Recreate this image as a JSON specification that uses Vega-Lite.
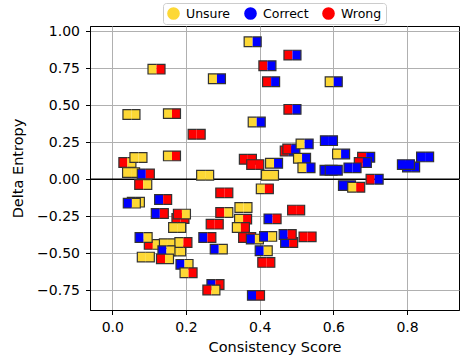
{
 "$schema": "https://vega.github.io/schema/vega-lite/v6.json",
 "width": 369,
 "height": 284,
 "autosize": "none",
 "padding": {"left": 90, "top": 26, "right": 1, "bottom": 52},
 "background": "white",
 "config": {
  "font": "DejaVu Sans",
  "view": {"stroke": "black", "strokeWidth": 1},
  "axis": {
   "grid": true,
   "gridColor": "#b0b0b0",
   "gridWidth": 1,
   "domainColor": "black",
   "domainWidth": 1,
   "tickColor": "black",
   "tickWidth": 1,
   "tickSize": 4.5,
   "labelFont": "DejaVu Sans",
   "labelFontSize": 14,
   "labelColor": "black",
   "labelPadding": 6,
   "labelOverlap": false,
   "labelFlush": false,
   "titleFont": "DejaVu Sans",
   "titleFontSize": 14.5,
   "titleFontWeight": "normal",
   "titleColor": "black"
  }
 },
 "data": {"values": [
  {"x":0.381,"y":0.930,"l":"Unsure","r":"Correct"},
  {"x":0.120,"y":0.745,"l":"Unsure","r":"Wrong"},
  {"x":0.421,"y":0.768,"l":"Wrong","r":"Correct"},
  {"x":0.431,"y":0.660,"l":"Wrong","r":"Correct"},
  {"x":0.284,"y":0.680,"l":"Unsure","r":"Correct"},
  {"x":0.489,"y":0.840,"l":"Wrong","r":"Correct"},
  {"x":0.601,"y":0.660,"l":"Unsure","r":"Correct"},
  {"x":0.489,"y":0.473,"l":"Wrong","r":"Correct"},
  {"x":0.052,"y":0.438,"l":"Unsure","r":"Unsure"},
  {"x":0.162,"y":0.444,"l":"Unsure","r":"Wrong"},
  {"x":0.392,"y":0.387,"l":"Unsure","r":"Correct"},
  {"x":0.229,"y":0.304,"l":"Wrong","r":"Wrong"},
  {"x":0.162,"y":0.158,"l":"Unsure","r":"Wrong"},
  {"x":0.041,"y":0.113,"l":"Wrong","r":"Unsure"},
  {"x":0.071,"y":0.147,"l":"Unsure","r":"Unsure"},
  {"x":0.051,"y":0.045,"l":"Unsure","r":"Unsure"},
  {"x":0.091,"y":0.036,"l":"Correct","r":"Wrong"},
  {"x":0.084,"y":-0.036,"l":"Wrong","r":"Unsure"},
  {"x":0.252,"y":0.027,"l":"Unsure","r":"Unsure"},
  {"x":0.064,"y":-0.155,"l":"Correct","r":"Unsure"},
  {"x":0.053,"y":-0.162,"l":"Correct","r":"Unsure"},
  {"x":0.138,"y":-0.137,"l":"Correct","r":"Wrong"},
  {"x":0.129,"y":-0.232,"l":"Correct","r":"Wrong"},
  {"x":0.185,"y":-0.266,"l":"Wrong","r":"Wrong"},
  {"x":0.189,"y":-0.236,"l":"Wrong","r":"Unsure"},
  {"x":0.304,"y":-0.092,"l":"Wrong","r":"Wrong"},
  {"x":0.304,"y":-0.225,"l":"Wrong","r":"Unsure"},
  {"x":0.176,"y":-0.327,"l":"Unsure","r":"Unsure"},
  {"x":0.278,"y":-0.304,"l":"Wrong","r":"Wrong"},
  {"x":0.110,"y":-0.441,"l":"Wrong","r":"Unsure"},
  {"x":0.151,"y":-0.436,"l":"Unsure","r":"Unsure"},
  {"x":0.176,"y":-0.486,"l":"Unsure","r":"Unsure"},
  {"x":0.085,"y":-0.394,"l":"Correct","r":"Unsure"},
  {"x":0.193,"y":-0.428,"l":"Unsure","r":"Wrong"},
  {"x":0.147,"y":-0.484,"l":"Correct","r":"Unsure"},
  {"x":0.091,"y":-0.527,"l":"Unsure","r":"Unsure"},
  {"x":0.143,"y":-0.539,"l":"Wrong","r":"Unsure"},
  {"x":0.196,"y":-0.576,"l":"Correct","r":"Unsure"},
  {"x":0.207,"y":-0.633,"l":"Unsure","r":"Wrong"},
  {"x":0.258,"y":-0.394,"l":"Correct","r":"Wrong"},
  {"x":0.289,"y":-0.473,"l":"Correct","r":"Unsure"},
  {"x":0.280,"y":-0.712,"l":"Correct","r":"Wrong"},
  {"x":0.269,"y":-0.750,"l":"Wrong","r":"Unsure"},
  {"x":0.368,"y":0.135,"l":"Wrong","r":"Wrong"},
  {"x":0.388,"y":0.099,"l":"Wrong","r":"Wrong"},
  {"x":0.439,"y":0.108,"l":"Unsure","r":"Correct"},
  {"x":0.428,"y":0.027,"l":"Unsure","r":"Unsure"},
  {"x":0.414,"y":-0.065,"l":"Unsure","r":"Wrong"},
  {"x":0.356,"y":-0.191,"l":"Unsure","r":"Unsure"},
  {"x":0.355,"y":-0.270,"l":"Unsure","r":"Wrong"},
  {"x":0.349,"y":-0.327,"l":"Unsure","r":"Wrong"},
  {"x":0.366,"y":-0.394,"l":"Wrong","r":"Wrong"},
  {"x":0.387,"y":-0.405,"l":"Correct","r":"Unsure"},
  {"x":0.423,"y":-0.387,"l":"Correct","r":"Unsure"},
  {"x":0.411,"y":-0.484,"l":"Correct","r":"Unsure"},
  {"x":0.418,"y":-0.563,"l":"Wrong","r":"Wrong"},
  {"x":0.390,"y":-0.786,"l":"Correct","r":"Wrong"},
  {"x":0.479,"y":0.191,"l":"Wrong","r":"Correct"},
  {"x":0.486,"y":0.205,"l":"Wrong","r":"Correct"},
  {"x":0.522,"y":0.239,"l":"Unsure","r":"Correct"},
  {"x":0.515,"y":0.142,"l":"Unsure","r":"Correct"},
  {"x":0.527,"y":0.077,"l":"Unsure","r":"Correct"},
  {"x":0.588,"y":0.261,"l":"Correct","r":"Correct"},
  {"x":0.587,"y":0.061,"l":"Correct","r":"Correct"},
  {"x":0.601,"y":0.061,"l":"Correct","r":"Correct"},
  {"x":0.621,"y":0.171,"l":"Unsure","r":"Correct"},
  {"x":0.689,"y":0.149,"l":"Wrong","r":"Correct"},
  {"x":0.680,"y":0.113,"l":"Wrong","r":"Correct"},
  {"x":0.652,"y":0.077,"l":"Correct","r":"Correct"},
  {"x":0.637,"y":-0.043,"l":"Correct","r":"Correct"},
  {"x":0.662,"y":-0.054,"l":"Unsure","r":"Wrong"},
  {"x":0.712,"y":0.0,"l":"Wrong","r":"Correct"},
  {"x":0.811,"y":0.083,"l":"Correct","r":"Correct"},
  {"x":0.797,"y":0.099,"l":"Correct","r":"Correct"},
  {"x":0.849,"y":0.151,"l":"Correct","r":"Correct"},
  {"x":0.499,"y":-0.209,"l":"Wrong","r":"Wrong"},
  {"x":0.435,"y":-0.268,"l":"Correct","r":"Wrong"},
  {"x":0.480,"y":-0.428,"l":"Correct","r":"Wrong"},
  {"x":0.476,"y":-0.374,"l":"Correct","r":"Wrong"},
  {"x":0.530,"y":-0.390,"l":"Wrong","r":"Wrong"}
 ]},
 "layer": [
  {
   "data": {"values": [{}]},
   "mark": {"type": "rule", "color": "black", "strokeWidth": 1.3},
   "encoding": {"y": {"datum": 0, "type": "quantitative"}}
  },
  {
   "transform": [{"fold": ["l", "r"], "as": ["side", "c"]}],
   "mark": {"type": "point", "filled": true, "size": 289, "stroke": "#333333", "strokeWidth": 1.2, "opacity": 1, "fillOpacity": 1, "strokeOpacity": 1},
   "encoding": {
    "x": {"field": "x", "type": "quantitative",
     "scale": {"domain": [-0.0605, 0.941], "nice": false, "zero": false},
     "axis": {"title": "Consistency Score", "values": [0, 0.2, 0.4, 0.6, 0.8], "format": ".1f", "titlePadding": 6}},
    "y": {"field": "y", "type": "quantitative",
     "scale": {"domain": [-0.885, 1.037], "nice": false, "zero": false},
     "axis": {"title": "Delta Entropy", "values": [-0.75, -0.5, -0.25, 0, 0.25, 0.5, 0.75, 1.0], "format": ".2f", "titlePadding": 11}},
    "shape": {"field": "side", "type": "nominal",
     "scale": {"domain": ["l", "r"], "range": ["M0,-0.57H-1V0.57H0", "M0,-0.57H1V0.57H0"]},
     "legend": null},
    "fill": {"field": "c", "type": "nominal",
     "scale": {"domain": ["Unsure", "Correct", "Wrong"], "range": ["#FDD835", "#0000FF", "#FF0000"]},
     "legend": {"title": null, "orient": "none", "legendX": 73, "legendY": -23, "direction": "horizontal",
      "symbolType": "circle", "symbolSize": 160, "symbolStrokeWidth": 0, "symbolOpacity": 1,
      "labelFont": "DejaVu Sans", "labelFontSize": 12.5, "labelColor": "black", "labelOffset": 6,
      "columnPadding": 13, "padding": 4, "strokeColor": "#cccccc", "fillColor": "white", "cornerRadius": 3}}
   }
  }
 ]
}
